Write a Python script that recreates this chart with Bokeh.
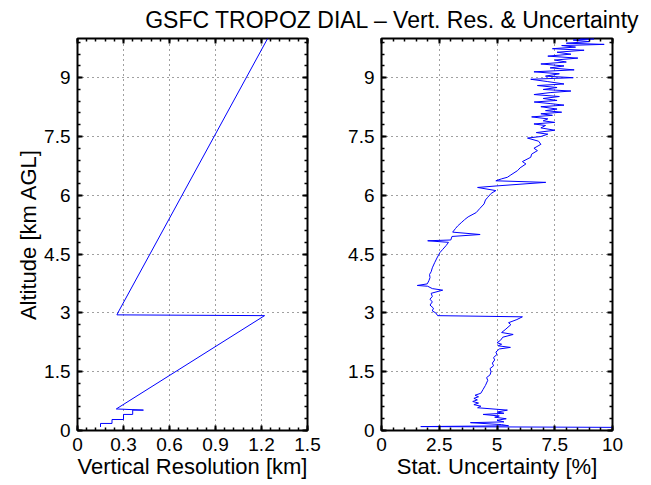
from bokeh.plotting import figure
from bokeh.models import Range1d, FixedTicker, LinearAxis, Label
from bokeh.layouts import column, row
from bokeh.embed import file_html
from bokeh.resources import INLINE

FONT = "Liberation Sans"

title_text = "GSFC TROPOZ DIAL \u2013 Vert. Res. & Uncertainty"
ylabel_text = "Altitude [km AGL]"
xlabel_left = "Vertical Resolution [km]"
xlabel_right = "Stat. Uncertainty [%]"

# Altitude axis
alt_ticks = [0, 1.5, 3, 4.5, 6, 7.5, 9]
alt_labels = ["0", "1.5", "3", "4.5", "6", "7.5", "9"]
alt_minor = [round(0.3 * i, 2) for i in range(34)]

# Left panel axis
res_ticks = [0, 0.3, 0.6, 0.9, 1.2, 1.5]
res_labels = ["0", "0.3", "0.6", "0.9", "1.2", "1.5"]
res_minor = [round(0.06 * i, 2) for i in range(26)]

# Right panel axis
unc_ticks = [0, 2.5, 5, 7.5, 10]
unc_labels = ["0", "2.5", "5", "7.5", "10"]
unc_minor = [round(0.5 * i, 2) for i in range(21)]

# Vertical resolution profile (km) vs altitude (km AGL)
res_km = [0.15, 0.15, 0.225, 0.225, 0.30, 0.30, 0.36, 0.36, 0.43, 0.253, 1.22, 0.257, 0.27, 1.24]
res_alt = [0.09, 0.18, 0.18, 0.28, 0.28, 0.41, 0.41, 0.52, 0.52, 0.55, 2.93, 2.95, 3.05, 10.0]

# Statistical uncertainty profile (%) vs altitude (km AGL)
unc_pct = [10.0, 1.7, 5.5, 5.2, 3.85, 5.3, 5.0, 5.4, 4.9, 5.1, 4.4, 5.3, 5.0, 5.45, 4.16, 4.3,
           4.0, 4.2, 3.95, 4.15, 4.0, 4.2, 4.05, 4.3, 4.4, 4.5, 4.6, 4.55, 4.7, 4.74, 4.7, 4.85,
           4.8, 4.9, 4.85, 5.0, 4.95, 5.1, 5.58, 5.05, 5.2, 5.0, 5.15, 5.25, 5.7, 5.2, 5.35, 5.6,
           5.5, 5.86, 6.1, 2.43, 2.35, 2.2, 2.25, 2.1, 2.2, 2.1, 2.2, 2.15, 2.65, 2.2, 2.0, 1.55,
           1.98, 2.05, 2.1, 2.08, 2.15, 2.2, 2.3, 2.4, 2.53, 2.65, 2.8, 2.9, 2.0, 3.0, 3.05, 4.27,
           3.08, 3.2, 3.3, 3.45, 3.6, 3.75, 4.1, 4.25, 4.44, 4.5, 4.6, 4.75, 4.95, 4.16, 5.0, 7.11,
           4.95, 5.2, 5.45, 5.6, 5.89, 6.0, 6.25, 6.1, 6.46, 6.5, 6.75, 6.6, 6.9, 6.8, 6.32, 6.9,
           7.2, 6.7, 7.5, 6.9, 7.1, 6.6, 7.5, 7.0, 7.2, 6.5, 7.4, 6.9, 7.8, 7.1, 7.6, 6.9,
           7.9, 7.3, 6.61, 7.6, 7.0, 7.7, 6.6, 7.3, 8.2, 7.0, 7.6, 6.75, 7.9, 7.2, 6.46, 8.3,
           7.1, 7.7, 6.6, 8.34, 7.3, 7.9, 6.9, 8.0, 7.5, 8.5, 7.2, 8.2, 7.6, 8.77, 7.4, 8.4,
           7.8, 9.64, 8.0, 9.0, 8.3, 9.2, 8.6]
unc_alt = [0.08, 0.10, 0.12, 0.15, 0.20, 0.22, 0.26, 0.30, 0.34, 0.37, 0.41, 0.44, 0.47, 0.52, 0.58, 0.62,
           0.66, 0.70, 0.74, 0.78, 0.82, 0.86, 0.90, 0.95, 1.05, 1.15, 1.28, 1.35, 1.42, 1.50, 1.58, 1.65,
           1.72, 1.80, 1.86, 1.94, 2.00, 2.08, 2.12, 2.16, 2.20, 2.24, 2.30, 2.38, 2.45, 2.50, 2.57, 2.70,
           2.75, 2.83, 2.90, 2.93, 3.00, 3.05, 3.12, 3.20, 3.28, 3.35, 3.42, 3.50, 3.58, 3.62, 3.68, 3.70,
           3.74, 3.82, 3.90, 3.98, 4.05, 4.15, 4.28, 4.40, 4.54, 4.62, 4.72, 4.80, 4.84, 4.86, 4.95, 5.00,
           5.06, 5.15, 5.22, 5.30, 5.38, 5.45, 5.56, 5.66, 5.78, 5.88, 5.95, 6.05, 6.12, 6.20, 6.24, 6.33,
           6.37, 6.42, 6.46, 6.52, 6.63, 6.70, 6.80, 6.86, 6.97, 7.05, 7.14, 7.20, 7.30, 7.38, 7.46, 7.50,
           7.56, 7.60, 7.66, 7.72, 7.78, 7.82, 7.86, 7.90, 7.95, 8.00, 8.04, 8.08, 8.12, 8.16, 8.20, 8.26,
           8.30, 8.34, 8.38, 8.42, 8.47, 8.52, 8.57, 8.62, 8.66, 8.70, 8.75, 8.80, 8.84, 8.90, 8.96, 9.00,
           9.04, 9.10, 9.15, 9.20, 9.25, 9.30, 9.35, 9.40, 9.45, 9.50, 9.55, 9.60, 9.65, 9.70, 9.74, 9.78,
           9.82, 9.85, 9.88, 9.92, 9.96, 9.99, 10.0]

TITLE_H = 34
FIG_H = 451


def style_axis(ax, show_labels):
    ax.axis_line_color = None
    ax.major_tick_in = 5
    ax.major_tick_out = 0
    ax.minor_tick_in = 3
    ax.minor_tick_out = 0
    ax.major_tick_line_width = 2
    ax.minor_tick_line_width = 1.5
    ax.major_tick_line_color = "black"
    ax.minor_tick_line_color = "black"
    if show_labels:
        ax.major_label_text_font = FONT
        ax.major_label_text_font_size = "19px"
        ax.major_label_text_color = "black"
        ax.major_label_standoff = 7
        ax.axis_label_text_font = FONT
        ax.axis_label_text_font_size = "22px"
        ax.axis_label_text_font_style = "normal"
        ax.axis_label_text_color = "black"
        ax.axis_label_standoff = 0
    else:
        ax.major_label_text_font_size = "1px"
        ax.major_label_text_color = None
        ax.major_label_standoff = 0


def make_panel(xmax, xticks, xlabels, xminor, xlabel, ylabel, width, bl, br):
    p = figure(width=width, height=FIG_H, output_backend="svg", toolbar_location=None,
               x_range=Range1d(0, xmax), y_range=Range1d(0, 10), title_location=None,
               min_border_left=bl, min_border_right=br, min_border_top=4, min_border_bottom=55)
    p.outline_line_color = "black"
    p.outline_line_width = 2
    xt = FixedTicker(ticks=xticks, minor_ticks=xminor)
    yt = FixedTicker(ticks=alt_ticks, minor_ticks=alt_minor)
    p.xaxis.ticker = xt
    p.yaxis.ticker = yt
    p.xaxis.major_label_overrides = dict(zip(xticks, xlabels))
    p.yaxis.major_label_overrides = dict(zip(alt_ticks, alt_labels))
    p.xaxis.axis_label = xlabel
    if ylabel:
        p.yaxis.axis_label = ylabel
    style_axis(p.xaxis[0], True)
    style_axis(p.yaxis[0], True)
    top = LinearAxis(ticker=FixedTicker(ticks=xticks, minor_ticks=xminor))
    right = LinearAxis(ticker=FixedTicker(ticks=alt_ticks, minor_ticks=alt_minor))
    style_axis(top, False)
    style_axis(right, False)
    p.add_layout(top, "above")
    p.add_layout(right, "right")
    p.xgrid.ticker = xt
    p.ygrid.ticker = yt
    for g in (p.xgrid[0], p.ygrid[0]):
        g.grid_line_color = "black"
        g.grid_line_alpha = 0.75
        g.grid_line_dash = "1 4"
        g.grid_line_width = 1
    return p


p1 = make_panel(1.5, res_ticks, res_labels, res_minor, xlabel_left, ylabel_text, 338, 77, 31)
p1.line(res_km, res_alt, line_color="#0000FF", line_width=1)

p2 = make_panel(10, unc_ticks, unc_labels, unc_minor, xlabel_right, None, 313, 43, 39)
p2.line(unc_pct, unc_alt, line_color="#0000FF", line_width=1)

t = figure(width=651, height=TITLE_H, output_backend="svg", toolbar_location=None,
           x_range=Range1d(0, 651), y_range=Range1d(0, TITLE_H), title_location=None,
           x_axis_location=None, y_axis_location=None, min_border=0)
t.outline_line_color = None
t.grid.visible = False
t.add_layout(Label(x=392, y=15, text=title_text, text_align="center", text_baseline="alphabetic",
                   text_font=FONT, text_font_size="23px", text_color="black"))

layout = column(t, row(p1, p2))

open("out.html", "w").write(file_html(layout, INLINE))
